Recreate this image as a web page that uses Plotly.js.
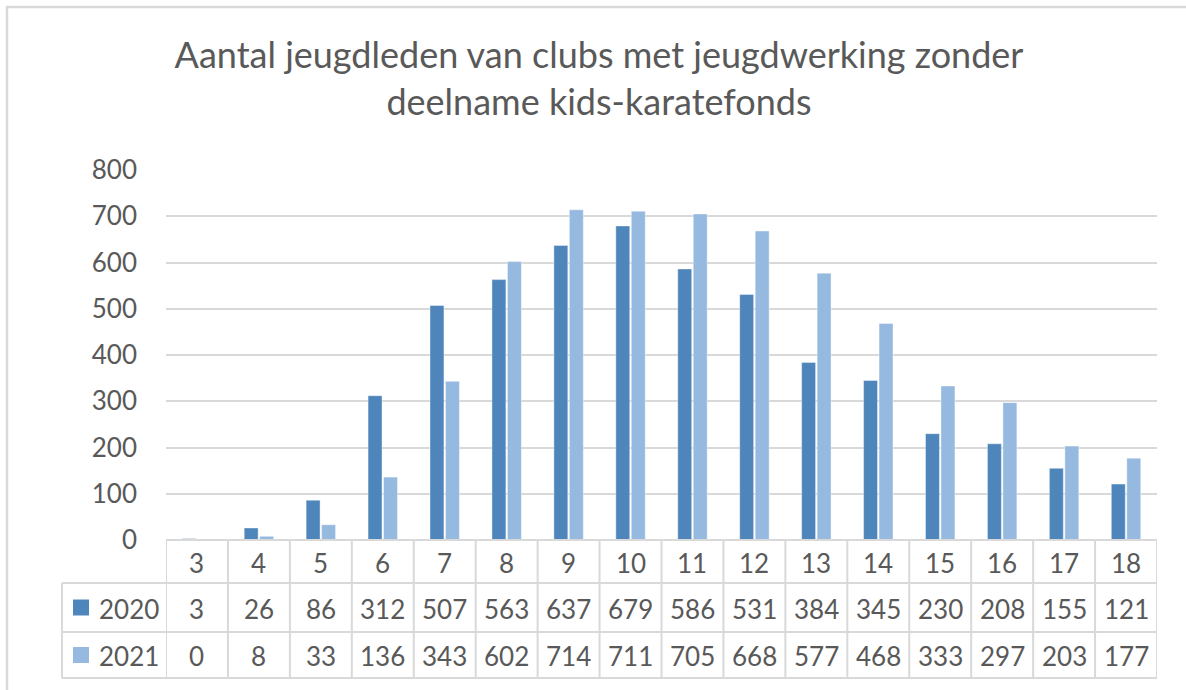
<!DOCTYPE html>
<html>
<head>
<meta charset="utf-8">
<script src="https://cdn.plot.ly/plotly-3.0.1.min.js"></script>
<style>html,body{margin:0;padding:0;background:#fff;}#chart{width:1186px;height:690px;}</style>
</head>
<body>
<div id="chart"></div>
<script>
const categories = ["3","4","5","6","7","8","9","10","11","12","13","14","15","16","17","18"];
const seriesNames = ["2020","2021"];
const values2020 = [3,26,86,312,507,563,637,679,586,531,384,345,230,208,155,121];
const values2021 = [0,8,33,136,343,602,714,711,705,668,577,468,333,297,203,177];
const yTicks = [0,100,200,300,400,500,600,700,800];
const titleText = "Aantal jeugdleden van clubs met jeugdwerking zonder<br>deelname kids-karatefonds";

const colors = ["#4e86bb", "#96b9e0"];
const W = 1186, H = 690;
const FONT = "Lato, 'Open Sans', sans-serif";
const TXT = "#595959";
const GRID = "#d9d9d9";
const py = y => (H - y) / H;   // pixel -> paper (y)
const px = x => x / W;         // pixel -> paper (x)

const plotLeft = 166, plotRight = 1157;
const yZero = 540, yTop = 170;
const rowLines = [540, 583, 632, 678];
const legendLeft = 62;

const allSeries = [values2020, values2021];
const traces = allSeries.map((vals, i) => ({
  type: "bar",
  name: seriesNames[i],
  x: categories,
  y: vals,
  marker: {color: colors[i], line: {color: "rgba(255,255,255,0.5)", width: 0.8}},
  hoverinfo: "x+y+name"
}));

const shapes = [];
const annotations = [];

// outer chart border
shapes.push({type: "rect", xref: "paper", yref: "paper",
  x0: px(7), x1: px(W + 10), y0: py(H + 10), y1: py(7),
  line: {color: GRID, width: 2.5}, fillcolor: "rgba(0,0,0,0)", layer: "below"});

// table horizontal lines
shapes.push({type: "line", xref: "x", yref: "paper", x0: -0.5, x1: categories.length - 0.5,
  y0: py(rowLines[0]), y1: py(rowLines[0]), line: {color: GRID, width: 2}});
for (let r = 1; r < rowLines.length; r++) {
  shapes.push({type: "line", xref: "paper", yref: "paper", x0: px(legendLeft), x1: px(plotRight),
    y0: py(rowLines[r]), y1: py(rowLines[r]), line: {color: GRID, width: 2}});
}
// table vertical lines at category boundaries
for (let i = 0; i <= categories.length; i++) {
  shapes.push({type: "line", xref: "x", yref: "paper", x0: i - 0.5, x1: i - 0.5,
    y0: py(rowLines[0]), y1: py(rowLines[3]), line: {color: GRID, width: 2}});
}
// legend column left edge
shapes.push({type: "line", xref: "paper", yref: "paper", x0: px(legendLeft), x1: px(legendLeft),
  y0: py(rowLines[1]), y1: py(rowLines[3]), line: {color: GRID, width: 2}});

const tableFont = {family: FONT, size: 26, color: TXT};
// category row
categories.forEach((c, i) => {
  annotations.push({xref: "x", yref: "paper", x: i, y: py((rowLines[0] + rowLines[1]) / 2 + 1),
    text: c, showarrow: false, font: tableFont, xanchor: "center", yanchor: "middle"});
});
// data rows
allSeries.forEach((vals, s) => {
  const yc = py((rowLines[s + 1] + rowLines[s + 2]) / 2 + 1);
  vals.forEach((v, i) => {
    annotations.push({xref: "x", yref: "paper", x: i, y: yc,
      text: String(v), showarrow: false, font: tableFont, xanchor: "center", yanchor: "middle"});
  });
  // legend key
  const ymid = (rowLines[s + 1] + rowLines[s + 2]) / 2;
  shapes.push({type: "rect", xref: "paper", yref: "paper",
    x0: px(73), x1: px(89), y0: py(ymid + 8), y1: py(ymid - 8),
    fillcolor: colors[s], line: {width: 0}});
  annotations.push({xref: "paper", yref: "paper", x: px(97), y: py(ymid + 1),
    text: seriesNames[s], showarrow: false, font: tableFont, xanchor: "left", yanchor: "middle"});
});

const layout = {
  width: W, height: H,
  margin: {l: 0, r: 0, t: 0, b: 0},
  paper_bgcolor: "#ffffff", plot_bgcolor: "#ffffff",
  showlegend: false,
  barmode: "group", bargap: 0.5, bargroupgap: 0.1,
  title: {text: titleText, x: px(599), xanchor: "center", y: py(68), yanchor: "top",
    font: {family: FONT, size: 36, color: TXT}},
  xaxis: {domain: [px(plotLeft), px(plotRight)], type: "category", range: [-0.5, categories.length - 0.5],
    showticklabels: false, showgrid: false, zeroline: false, showline: false, ticks: "", fixedrange: true},
  yaxis: {domain: [py(yZero), py(yTop)], range: [0, 800], tickvals: yTicks, ticktext: yTicks.map(String),
    showgrid: true, gridcolor: GRID, gridwidth: 2, zeroline: false, showline: false, ticks: "",
    ticklabelstandoff: 28, tickfont: {family: FONT, size: 26, color: TXT}, fixedrange: true},
  shapes: shapes,
  annotations: annotations
};

Plotly.newPlot("chart", traces, layout, {displayModeBar: false, staticPlot: true});
</script>
</body>
</html>
